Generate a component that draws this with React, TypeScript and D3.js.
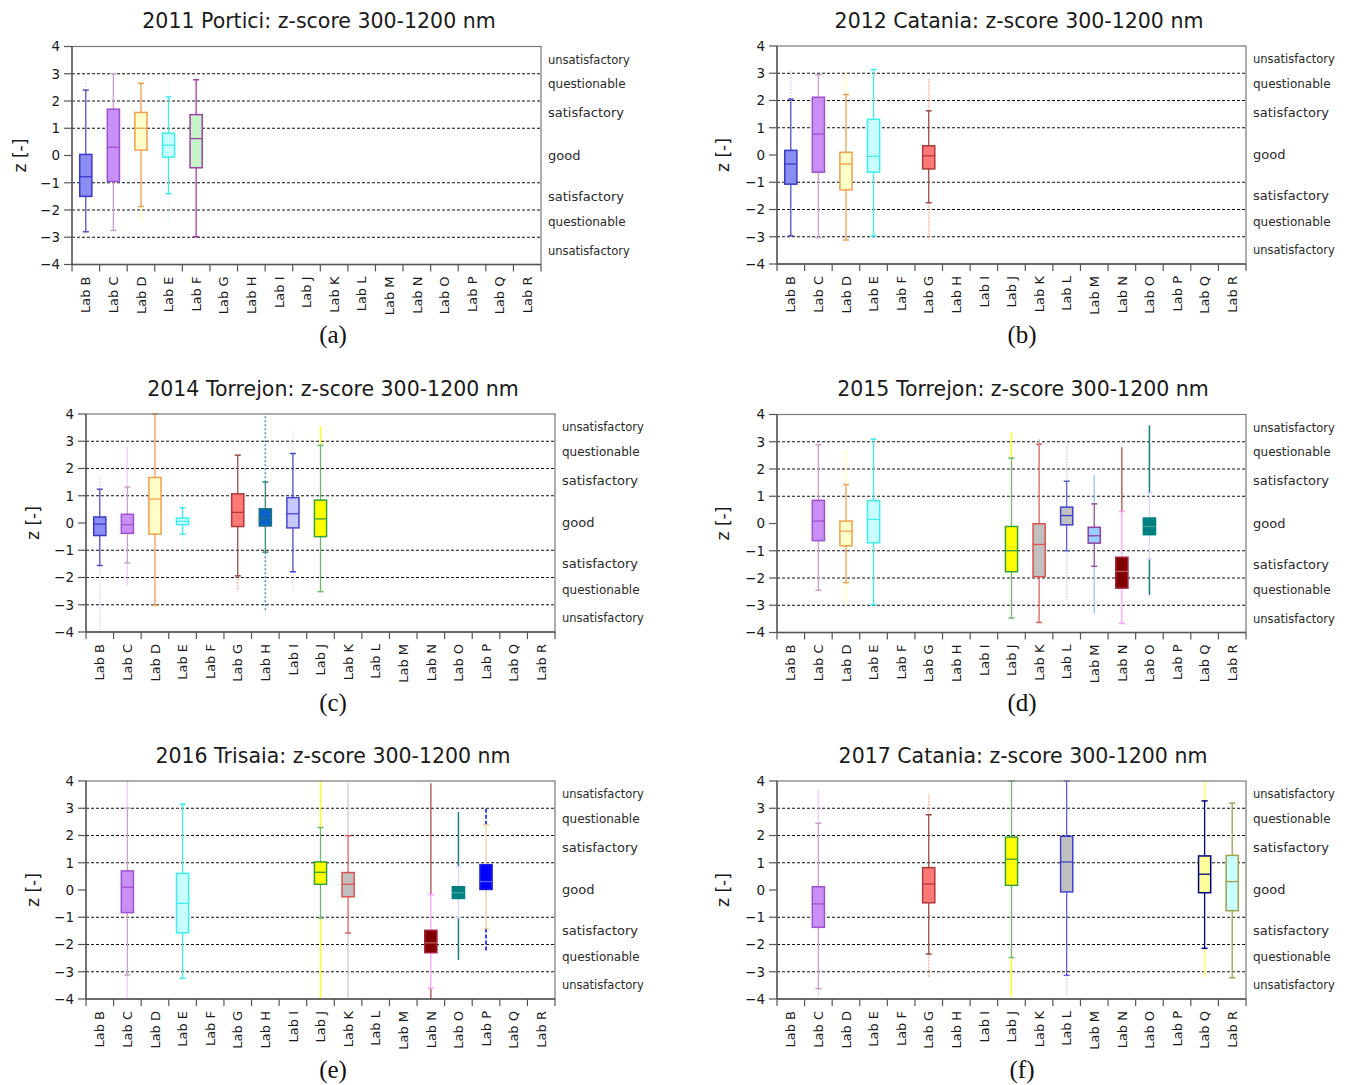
import React from 'react';
import * as d3 from 'd3';

const labs = ['Lab B', 'Lab C', 'Lab D', 'Lab E', 'Lab F', 'Lab G', 'Lab H', 'Lab I', 'Lab J',
  'Lab K', 'Lab L', 'Lab M', 'Lab N', 'Lab O', 'Lab P', 'Lab Q', 'Lab R'];
const dashedLevels = [3, 2, 1, -1, -2, -3];
const zoneNames = ['unsatisfactory', 'questionable', 'satisfactory', 'good', 'satisfactory', 'questionable', 'unsatisfactory'];
const zoneCenters = [3.5, 2.6, 1.55, 0, -1.5, -2.45, -3.5];

// [lab, whisker low, q1, median, q3, whisker high, outliers low, outliers high]
type Row = [string, number, number, number, number, number, number | null, number | null];

const portici2011: Row[] = [
  ['Lab B', -2.8, -1.5, -0.78, 0.04, 2.4, null, 2.7],
  ['Lab C', -2.75, -0.95, 0.3, 1.7, 3.0, null, null],
  ['Lab D', -1.87, 0.2, 1.0, 1.58, 2.65, -2.4, null],
  ['Lab E', -1.4, -0.06, 0.38, 0.82, 2.15, -2.5, 2.8],
  ['Lab F', -2.98, -0.45, 0.62, 1.5, 2.78, null, null],
];
const catania2012: Row[] = [
  ['Lab B', -2.97, -1.07, -0.33, 0.17, 2.05, null, 3.1],
  ['Lab C', -3.03, -0.63, 0.77, 2.12, 2.95, null, null],
  ['Lab D', -3.12, -1.28, -0.33, 0.1, 2.22, null, 3.1],
  ['Lab E', -2.97, -0.63, -0.05, 1.31, 3.14, null, null],
  ['Lab G', -1.75, -0.51, -0.03, 0.34, 1.62, -3.1, 2.8],
];
const torrejon2014: Row[] = [
  ['Lab B', -1.56, -0.46, -0.04, 0.22, 1.24, -4, 1.7],
  ['Lab C', -1.46, -0.38, -0.06, 0.32, 1.32, -2.3, 2.8],
  ['Lab D', -3.02, -0.41, 0.88, 1.67, 4.0, null, null],
  ['Lab E', -0.41, -0.06, 0.06, 0.18, 0.56, -1.0, 1.3],
  ['Lab G', -1.94, -0.13, 0.39, 1.07, 2.49, -2.45, null],
  ['Lab H', -1.07, -0.11, 0.17, 0.52, 1.5, -3.2, 4.0],
  ['Lab I', -1.79, -0.18, 0.34, 0.93, 2.55, -2.5, 3.4],
  ['Lab J', -2.52, -0.5, 0.15, 0.84, 2.85, null, 3.55],
];
const torrejon2015: Row[] = [
  ['Lab C', -2.45, -0.63, 0.09, 0.85, 2.89, null, null],
  ['Lab D', -2.17, -0.82, -0.28, 0.09, 1.43, -2.9, 2.7],
  ['Lab E', -2.98, -0.71, 0.15, 0.84, 3.1, null, null],
  ['Lab J', -3.47, -1.77, -1.0, -0.11, 2.4, null, 3.35],
  ['Lab K', -3.63, -1.95, -0.77, -0.01, 2.91, null, 3.1],
  ['Lab L', -1.0, -0.05, 0.29, 0.6, 1.55, -2.8, 2.9],
  ['Lab M', -1.57, -0.72, -0.45, -0.14, 0.72, -3.3, 1.77],
  ['Lab N', -3.67, -2.37, -1.76, -1.24, 0.44, null, 2.8],
  ['Lab O', -1.3, -0.41, -0.11, 0.2, 1.12, -2.62, 3.6],
];
const trisaia2016: Row[] = [
  ['Lab C', -3.12, -0.83, 0.1, 0.7, 3.0, -4, 4],
  ['Lab E', -3.24, -1.57, -0.49, 0.61, 3.15, null, null],
  ['Lab J', -1.03, 0.21, 0.65, 1.03, 2.29, -4, 4],
  ['Lab K', -1.58, -0.25, 0.21, 0.64, 1.99, -4, 3.92],
  ['Lab N', -3.6, -2.3, -1.94, -1.48, -0.17, -4, 3.92],
  ['Lab O', -1.02, -0.31, -0.1, 0.12, 0.86, -2.57, 2.86],
  ['Lab P', -1.41, 0.02, 0.31, 0.93, 2.39, -2.24, 3.03],
];
const catania2017: Row[] = [
  ['Lab C', -3.62, -1.37, -0.51, 0.12, 2.45, -3.9, 3.7],
  ['Lab G', -2.35, -0.47, 0.22, 0.82, 2.76, -3.2, 3.5],
  ['Lab J', -2.48, 0.17, 1.13, 1.94, 4.0, -3.9, null],
  ['Lab L', -3.13, -0.07, 1.03, 1.97, 4.0, -3.9, null],
  ['Lab Q', -2.14, -0.1, 0.58, 1.25, 3.27, -3.2, 4.0],
  ['Lab R', -3.22, -0.76, 0.31, 1.27, 3.19, null, null],
];

// per-lab colours
const labStyle: Record<string, any> = {
  'Lab B': { fill: '#8c8cf2', stroke: '#3a3ac8', whisker: '#5050c8', out: '#9090e0', outOp: 0.5, dash: '1,2' },
  'Lab C': { fill: '#c890f5', stroke: '#a050d0', whisker: '#c8a0c8', out: '#d8b0f5', outOp: 0.55, dash: null },
  'Lab D': { fill: '#ffffc8', stroke: '#f0a050', whisker: '#f0a050', out: '#ffff90', outOp: 0.8, dash: '2,1' },
  'Lab E': { fill: '#c8ffff', stroke: '#40ecec', whisker: '#40ecec', out: '#a0f8f8', outOp: 0.6, dash: '1,2' },
  'Lab F': { fill: '#c8f5c8', stroke: '#a040a8', whisker: '#a040a8', out: '#a040a8', outOp: 0.5, dash: '1,2' },
  'Lab G': { fill: '#ff7878', stroke: '#b03838', whisker: '#a04848', out: '#ff9090', outOp: 0.6, dash: '2,1' },
  'Lab H': { fill: '#0a64c8', stroke: '#207080', whisker: '#3a8a7a', out: '#3a80c0', outOp: 0.9, dash: '2,2' },
  'Lab I': { fill: '#c8c8ff', stroke: '#4848d0', whisker: '#4848d0', out: '#c0c0f0', outOp: 0.6, dash: '1,2' },
  'Lab J': { fill: '#ffff00', stroke: '#3aa03a', whisker: '#70b870', out: '#ffff20', outOp: 1, dash: null },
  'Lab K': { fill: '#c0c0c0', stroke: '#e05050', whisker: '#e06060', out: '#c8c8c8', outOp: 0.8, dash: null },
  'Lab L': { fill: '#c0c0c0', stroke: '#4040d0', whisker: '#6060e0', out: '#d0d0d0', outOp: 0.8, dash: '2,1' },
  'Lab M': { fill: '#99ccff', stroke: '#9040a0', whisker: '#9050a0', out: '#80c0ff', outOp: 0.8, dash: null },
  'Lab N': { fill: '#800000', stroke: '#a02040', whisker: '#ffa0ff', out: '#a03030', outOp: 0.75, dash: null, median: '#c06060' },
  'Lab O': { fill: '#008080', stroke: '#008080', whisker: '#dcd4ff', out: '#108080', outOp: 1, dash: null, median: '#40a0a0' },
  'Lab P': { fill: '#0000ff', stroke: '#2020e0', whisker: '#f5cba0', out: '#0000ff', outOp: 1, dash: '4,2', median: '#6060ff' },
  'Lab Q': { fill: '#ffff99', stroke: '#000080', whisker: '#000080', out: '#ffff60', outOp: 1, dash: null },
  'Lab R': { fill: '#c8ffff', stroke: '#a0a050', whisker: '#a0a050', out: '#a0a050', outOp: 0.5, dash: null },
};

const panels = [
  { title: '2011 Portici: z-score 300-1200 nm', caption: '(a)', rows: portici2011, left: 72, top: 46.5, tx: 319, ty: 28, cx: 333, cy: 343, zx: 20 },
  { title: '2012 Catania: z-score 300-1200 nm', caption: '(b)', rows: catania2012, left: 777, top: 46, tx: 1019, ty: 28, cx: 1022, cy: 343, zx: 723 },
  { title: '2014 Torrejon: z-score 300-1200 nm', caption: '(c)', rows: torrejon2014, left: 86, top: 414, tx: 333, ty: 396, cx: 333, cy: 711, zx: 33 },
  { title: '2015 Torrejon: z-score 300-1200 nm', caption: '(d)', rows: torrejon2015, left: 777, top: 414.5, tx: 1023, ty: 396, cx: 1022, cy: 711, zx: 723 },
  { title: '2016 Trisaia: z-score 300-1200 nm', caption: '(e)', rows: trisaia2016, left: 86, top: 781, tx: 333, ty: 763, cx: 333, cy: 1078, zx: 33 },
  { title: '2017 Catania: z-score 300-1200 nm', caption: '(f)', rows: catania2017, left: 777, top: 781, tx: 1023, ty: 763, cx: 1022, cy: 1078, zx: 723 },
];

const W = 469;
const H = 218;
const sans = 'DejaVu Sans, Verdana, sans-serif';
const zoneSize = [11.5, 12, 13, 13, 13, 12, 11.5];

const Panel = ({ p }: { p: any }) => {
  const x = d3.scaleBand().domain(labs).range([p.left, p.left + W]);
  const y = d3.scaleLinear().domain([-4, 4]).range([p.top + H, p.top]);
  const bw = x.bandwidth() * 0.44;
  const fmt = d3.format('d');
  const right = p.left + W;
  const bottom = p.top + H;

  return (
    <g>
      <text x={p.tx} y={p.ty} textAnchor="middle" fontFamily={sans} fontSize={20.5} fill="#1a1a1a">{p.title}</text>

      {dashedLevels.map((v) => (
        <line key={v} x1={p.left} x2={right} y1={y(v)} y2={y(v)} stroke="#111" strokeWidth={1.1} strokeDasharray="3,2" />
      ))}

      {p.rows.map((r: Row) => {
        const [lab, lo, q1, med, q3, hi, oLo, oHi] = r;
        const s = labStyle[lab];
        const cx = (x(lab) as number) + x.bandwidth() / 2;
        return (
          <g key={lab}>
            {oHi !== null && (
              <line x1={cx} x2={cx} y1={y(hi)} y2={y(oHi)} stroke={s.out} strokeOpacity={s.outOp} strokeWidth={1.5} strokeDasharray={s.dash || undefined} />
            )}
            {oLo !== null && (
              <line x1={cx} x2={cx} y1={y(lo)} y2={y(oLo)} stroke={s.out} strokeOpacity={s.outOp} strokeWidth={1.5} strokeDasharray={s.dash || undefined} />
            )}
            <line x1={cx} x2={cx} y1={y(hi)} y2={y(lo)} stroke={s.whisker} strokeWidth={1.3} />
            <line x1={cx - 3} x2={cx + 3} y1={y(hi)} y2={y(hi)} stroke={s.whisker} strokeWidth={1.5} />
            <line x1={cx - 3} x2={cx + 3} y1={y(lo)} y2={y(lo)} stroke={s.whisker} strokeWidth={1.5} />
            <rect x={cx - bw / 2} y={y(q3)} width={bw} height={y(q1) - y(q3)} fill={s.fill} stroke={s.stroke} strokeWidth={1.5} />
            <line x1={cx - bw / 2} x2={cx + bw / 2} y1={y(med)} y2={y(med)} stroke={s.median || s.stroke} strokeWidth={1.3} />
          </g>
        );
      })}

      <rect x={p.left} y={p.top} width={W} height={H} fill="none" stroke="#777" strokeWidth={1.2} />
      <line x1={p.left} x2={p.left} y1={p.top} y2={bottom} stroke="#555" strokeWidth={1.3} />
      <line x1={p.left} x2={right} y1={bottom} y2={bottom} stroke="#555" strokeWidth={1.3} />

      {y.ticks(8).map((t) => (
        <g key={t}>
          <line x1={p.left - 8} x2={p.left} y1={y(t)} y2={y(t)} stroke="#555" strokeWidth={1.2} />
          <text x={p.left - 12} y={y(t)} dy="0.36em" textAnchor="end" fontFamily={sans} fontSize={13.5} fill="#1a1a1a">{fmt(t)}</text>
        </g>
      ))}

      {labs.map((l) => (
        <line key={'t' + l} x1={x(l) as number} x2={x(l) as number} y1={bottom} y2={bottom + 7} stroke="#555" strokeWidth={1.2} />
      ))}
      <line x1={right} x2={right} y1={bottom} y2={bottom + 7} stroke="#555" strokeWidth={1.2} />

      {labs.map((l) => {
        const lx = (x(l) as number) + x.bandwidth() / 2;
        const ly = bottom + 12;
        return (
          <text key={'l' + l} x={lx} y={ly} dy="0.36em" transform={`rotate(-90,${lx},${ly})`} textAnchor="end" fontFamily={sans} fontSize={13} fill="#1a1a1a">{l}</text>
        );
      })}

      {zoneNames.map((n, i) => (
        <text key={'z' + i} x={right + 7} y={y(zoneCenters[i])} dy="0.32em" fontFamily={sans} fontSize={zoneSize[i]} fill="#2a2a2a">{n}</text>
      ))}

      <text x={p.zx} y={(p.top + bottom) / 2} dy="0.36em" transform={`rotate(-90,${p.zx},${(p.top + bottom) / 2})`} textAnchor="middle" fontFamily={sans} fontSize={17} fill="#1a1a1a">z [-]</text>

      <text x={p.cx} y={p.cy} textAnchor="middle" fontFamily="Liberation Serif, Times New Roman, serif" fontSize={25} fill="#111">{p.caption}</text>
    </g>
  );
};

const App = () => (
  <svg width={1347} height={1085} style={{ position: 'absolute', left: 0, top: 0, background: '#fff' }}>
    <rect x={0} y={0} width={1347} height={1085} fill="#fff" />
    {panels.map((p) => <Panel key={p.caption} p={p} />)}
  </svg>
);

export default App;
